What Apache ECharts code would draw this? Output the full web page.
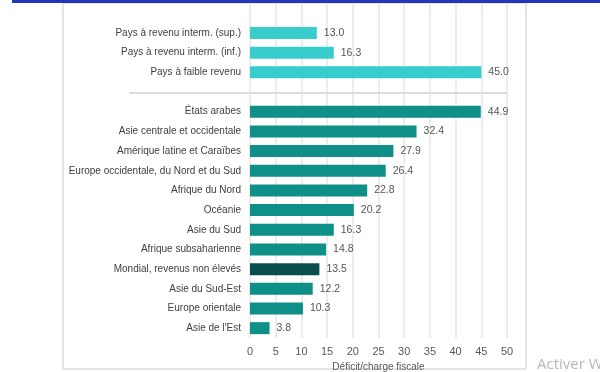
<!DOCTYPE html>
<html>
<head>
<meta charset="utf-8">
<script src="https://cdn.jsdelivr.net/npm/echarts@6/dist/echarts.min.js"></script>
<style>
html,body{margin:0;padding:0;background:#fff;}
#chart{width:600px;height:372px;}
</style>
</head>
<body>
<div id="chart"></div>
<script>
// Data
const incomeGroups = ['Pays à revenu interm. (sup.)', 'Pays à revenu interm. (inf.)', 'Pays à faible revenu'];
const incomeValues = [13.0, 16.3, 45.0];
const regions = ['États arabes', 'Asie centrale et occidentale', 'Amérique latine et Caraïbes',
  'Europe occidentale, du Nord et du Sud', 'Afrique du Nord', 'Océanie', 'Asie du Sud',
  'Afrique subsaharienne', 'Mondial, revenus non élevés', 'Asie du Sud-Est', 'Europe orientale', "Asie de l'Est"];
const regionValues = [44.9, 32.4, 27.9, 26.4, 22.8, 20.2, 16.3, 14.8, 13.5, 12.2, 10.3, 3.8];
const highlighted = 'Mondial, revenus non élevés';
const xTicks = [0, 5, 10, 15, 20, 25, 30, 35, 40, 45, 50];
const xAxisName = 'Déficit/charge fiscale';

const FONT = "'Liberation Sans Narrow', 'Arial Narrow', 'Liberation Sans', Arial, sans-serif";
const topPad = '\u2002';
const gapCat = ' ';
const categories = [topPad].concat(incomeGroups, [gapCat], regions);

const data = [{ value: null }];
incomeGroups.forEach((n, i) => data.push({ value: incomeValues[i], itemStyle: { color: '#38cdcd' } }));
data.push({ value: null });
regions.forEach((n, i) => data.push({
  value: regionValues[i],
  itemStyle: { color: n === highlighted ? '#0b4f4d' : '#0e8f88' }
}));

const chart = echarts.init(document.getElementById('chart'), null, { renderer: 'canvas' });
const option = {
  animation: false,
  backgroundColor: '#fff',
  grid: { left: 250, right: 93, top: 3.5, bottom: 34, containLabel: false, outerBoundsMode: 'none' },
  xAxis: {
    type: 'value', min: 0, max: 50, interval: 5,
    axisLine: { show: false }, axisTick: { show: false },
    splitLine: { show: true, lineStyle: { color: '#e6e6e6', width: 1.5 } },
    axisLabel: { color: '#595959', fontSize: 11, fontFamily: FONT, margin: 8,
      formatter: v => xTicks.includes(v) ? String(v) : '' },
    name: xAxisName, nameLocation: 'middle', nameGap: 20,
    nameTextStyle: { color: '#595959', fontSize: 10, fontFamily: FONT }
  },
  yAxis: {
    type: 'category', data: categories, inverse: true,
    axisLine: { show: false }, axisTick: { show: false }, splitLine: { show: false },
    axisLabel: { color: '#404040', fontSize: 10, fontFamily: FONT, margin: 9 }
  },
  series: [{
    type: 'bar', data: data, barWidth: 12,
    label: { show: true, position: 'right', distance: 7, color: '#555', fontSize: 10.5, fontFamily: FONT,
      formatter: p => p.value == null ? '' : Number(p.value).toFixed(1) }
  }]
};
chart.setOption(option);

const ySep = chart.convertToPixel({ yAxisIndex: 0 }, gapCat) + 1;
const xEnd = chart.convertToPixel({ xAxisIndex: 0 }, 50);
chart.setOption({
  graphic: [
    { type: 'rect', z: -10, silent: true, shape: { x: 63, y: 3, width: 463, height: 366 },
      style: { fill: '#fff', stroke: '#e4e4e4', lineWidth: 2 } },
    { type: 'rect', z: 100, silent: true, shape: { x: 12, y: 0, width: 588, height: 3 },
      style: { fill: '#2236b8' } },
    { type: 'line', z: 100, silent: true, shape: { x1: 129, y1: ySep, x2: xEnd, y2: ySep },
      style: { stroke: '#dcdcdc', lineWidth: 2 } },
    { type: 'text', z: 100, silent: true, x: 537, y: 357,
      style: { text: 'Activer W', fill: '#b8b8b8', fontSize: 15, fontFamily: "'Open Sans', 'Noto Sans', sans-serif" } }
  ]
});
</script>
</body>
</html>
